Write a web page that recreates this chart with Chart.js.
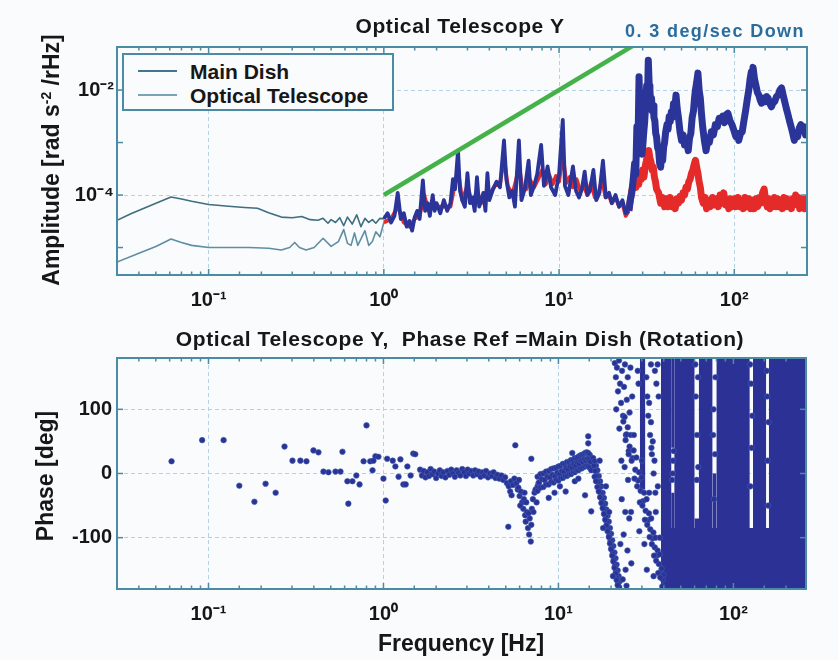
<!DOCTYPE html>
<html><head><meta charset="utf-8">
<script src="https://cdn.jsdelivr.net/npm/chart.js@4.4.1/dist/chart.umd.min.js"></script>
<style>
html,body{margin:0;padding:0}
body{width:838px;height:660px;position:relative;overflow:hidden;background:#fafbfd;font-family:"Liberation Sans",Arial,sans-serif;color:#171717}
canvas{position:absolute;left:0}
#c1{top:0}
#c2{top:320px}
.t{position:absolute;white-space:nowrap;font-weight:bold;z-index:3;line-height:1}
.c{transform:translate(-50%,-50%)}
.r{transform:translate(-50%,-50%) rotate(-90deg)}
#leg{position:absolute;left:122px;top:53px;width:268px;height:54px;border:2px solid #4b8ba3;background:#fafbfd;z-index:2}
.ll{position:absolute;left:14px;width:39px;height:0;border-top:2px solid}
.lt{position:absolute;left:66px;font-size:21px;font-weight:bold;line-height:1;transform:translateY(-50%)}
</style></head><body>
<canvas id="c1" width="838" height="320" style="width:838px;height:320px"></canvas>
<canvas id="c2" width="838" height="340" style="width:838px;height:340px"></canvas>

<div class="t c" style="left:460px;top:25px;font-size:21px;letter-spacing:0.6px">Optical Telescope Y</div>
<div class="t" style="left:625px;top:31px;transform:translateY(-50%);font-size:18px;letter-spacing:1.4px;color:#2a6c9c">0. 3 deg/sec Down</div>
<div class="t r" style="left:51px;top:160px;font-size:23px">Amplitude [rad s<sup style="font-size:14px">-2</sup> /rHz]</div>
<div class="t c" style="left:460px;top:338px;font-size:21px;letter-spacing:0.6px">Optical Telescope Y,&nbsp; Phase Ref =Main Dish (Rotation)</div>
<div class="t r" style="left:45px;top:476px;font-size:23px">Phase [deg]</div>
<div class="t c" style="left:461px;top:643px;font-size:23px">Frequency [Hz]</div>

<div id="leg">
  <div class="ll" style="top:15px;border-color:#3f7595"></div>
  <div class="lt" style="top:16px">Main Dish</div>
  <div class="ll" style="top:39px;border-color:#79a3b8"></div>
  <div class="lt" style="top:40px">Optical Telescope</div>
</div>

<script>
// ---------------- DATA ----------------
const freqTickExps = [-1, 0, 1, 2];
const ampTickExps = [-4, -2];
const phaseTicks = [-100, 0, 100];

// Main Dish amplitude [Hz, rad s^-2/rHz]
const mainDish = [
 [0.030,3.3e-5],[0.036,4.4e-5],[0.047,6.4e-5],[0.061,9.2e-5],[0.07,8.4e-5],[0.08,7.6e-5],[0.1,6.6e-5],[0.13,6.1e-5],
 [0.16,5.8e-5],[0.19,5.6e-5],[0.22,4.6e-5],[0.26,3.8e-5],[0.3,3.7e-5],[0.34,3.9e-5],[0.38,3.4e-5],[0.42,3.3e-5],
 [0.45,3.6e-5],[0.48,2.9e-5],[0.5,3.4e-5],[0.53,3.0e-5],[0.56,3.7e-5],[0.59,2.6e-5],[0.62,3.8e-5],[0.66,2.8e-5],
 [0.7,4.2e-5],[0.74,2.5e-5],[0.78,3.6e-5],[0.82,3.0e-5],[0.86,3.4e-5],[0.9,2.9e-5],[0.95,3.6e-5],
 [1.0,3.5e-5],[1.05,4.5e-5],[1.1,3.0e-5],[1.15,4e-5],[1.2,1.1e-4],[1.25,3.5e-5],[1.3,4.5e-5],[1.35,2.5e-5],[1.4,3.2e-5],
 [1.45,2.1e-5],[1.5,3.8e-5],[1.55,5e-5],[1.6,3.5e-5],[1.67,1.9e-4],[1.72,5e-5],[1.78,7e-5],[1.83,4e-5],[1.9,1.0e-4],
 [1.95,5e-5],[2.0,7e-5],[2.1,4.5e-5],[2.2,8e-5],[2.3,5e-5],[2.4,7e-5],[2.48,2.0e-4],[2.55,1.3e-4],[2.65,7e-4],
 [2.72,1.2e-4],[2.8,8e-5],[2.9,6e-5],[3.0,2.6e-4],[3.1,7e-5],[3.2,9e-5],[3.3,5e-5],[3.4,2.2e-4],[3.5,6e-5],[3.6,8e-5],
 [3.7,1.1e-4],[3.8,5e-5],[3.9,2.6e-4],[4.0,8e-5],[4.2,1.3e-4],[4.4,1.8e-4],[4.6,1.4e-4],[4.85,1.1e-3],[5.0,2e-4],
 [5.2,9e-5],[5.4,1.2e-4],[5.6,6e-5],[5.9,1.1e-3],[6.1,8e-5],[6.4,1.4e-4],[6.7,4.5e-4],[6.9,1.0e-4],[7.2,1.5e-4],
 [7.5,2.5e-4],[7.9,9e-4],[8.2,1.5e-4],[8.6,3.5e-4],[9.0,1.4e-4],[9.5,1.0e-4],[10.0,2.5e-4],[10.5,2.7e-3],[10.8,1.5e-4],
 [11.3,1.0e-4],[12,3.5e-4],[12.5,1.2e-4],[13,9e-5],[13.5,1.3e-4],[14,2.8e-4],[14.5,1.0e-4],[15,1.2e-4],[15.7,3e-4],
 [16.3,8e-5],[17,1.1e-4],[17.8,4.5e-4],[18.5,9e-5],[19.3,1.1e-4],[20,7e-5],[21,1.0e-4],[22,6e-5],[23,8e-5],[24,4.5e-5],
 [25,5e-5],[25.5,8e-5],[26,1.1e-4],[26.5,2e-4],[27,4e-4],[27.4,2.5e-4],[27.8,2e-3],[28.2,8e-4],[28.6,1.8e-2],[29,3e-3],
 [29.3,1.5e-3],[29.7,6e-4],[30,8e-4],[30.4,1.5e-3],[30.8,2.5e-3],[31.2,5e-3],[31.6,1.2e-2],[32,8e-3],[32.3,3.7e-2],
 [32.7,1.2e-2],[33,1e-2],[33.4,5e-3],[33.7,7e-3],[34,4e-3],[34.4,5e-3],[34.8,3e-3],[35.2,2.6e-3],[35.6,1.5e-3],
 [36,1.3e-3],[36.5,8e-4],[37,7e-4],[37.5,4e-4],[38,3.4e-4],[38.5,6e-4],[39,4.5e-4],[39.5,8e-4],[40,1e-3],[40.6,1.6e-3],
 [41.3,2.2e-3],[41.9,1.8e-3],[42.5,3.1e-3],[43.1,2.5e-3],[43.7,3.8e-3],[44.3,3e-3],[45,5.5e-3],[45.7,4.5e-3],[46.5,8e-3],
 [47.2,4.5e-3],[48,3e-3],[49,1.6e-3],[50,1.1e-3],[51,1.4e-3],[52,9e-4],[53.3,1.1e-3],[54.6,7e-4],[55.5,1.2e-3],
 [56.5,1.5e-3],[57.5,3e-3],[58.5,4e-3],[59.3,7e-3],[60,1e-2],[61,1.4e-2],[62,2.1e-2],[63,1e-2],[64,7e-3],[65,3.5e-3],
 [66,2e-3],[67.5,1.1e-3],[69,7e-4],[70.5,1.1e-3],[72,1e-3],[74,1.6e-3],[76,1.4e-3],[78,2.2e-3],[80,2e-3],[82,2.9e-3],
 [84,2.6e-3],[86,3.2e-3],[88,2.4e-3],[90,3.4e-3],[92,3.6e-3],[94.5,2.6e-3],[97,2.2e-3],[99.5,1.7e-3],[102,1.3e-3],
 [104,1.5e-3],[106,1.1e-3],[108.5,1.5e-3],[111,1.6e-3],[113.5,2.6e-3],[116,4e-3],[118.5,6.5e-3],[121,1e-2],[123,1.6e-2],
 [125,2.2e-2],[126.5,1.8e-2],[128,2.7e-2],[130.5,1.6e-2],[133,1.2e-2],[135.5,9e-3],[138,8e-3],[140.5,6.5e-3],[143,5.6e-3],
 [146.5,7e-3],[150,6e-3],[153,7.5e-3],[156,7e-3],[159.5,5.5e-3],[163,4.8e-3],[166.5,5.8e-3],[170,6e-3],[174,7.5e-3],
 [178,8e-3],[182,1e-2],[186,1.1e-2],[190,8e-3],[194,6e-3],[198,4.5e-3],[202,3.5e-3],[206.5,2.6e-3],[211,2e-3],
 [215.5,1.5e-3],[220,1.1e-3],[225,1.5e-3],[230,1.3e-3],[235,1.9e-3],[240,2.2e-3],[245,1.7e-3],[250,2e-3],[255,1.4e-3],[260,1.6e-3]
];

// Optical Telescope amplitude [Hz, rad s^-2/rHz]
const opticalTelescope = [
 [0.03,5.3e-6],[0.04,7.8e-6],[0.05,1.05e-5],[0.061,1.45e-5],[0.07,1.25e-5],[0.08,1.1e-5],[0.1,1.0e-5],[0.13,1.0e-5],
 [0.17,1.0e-5],[0.22,9.7e-6],[0.26,9.0e-6],[0.29,1.0e-5],[0.31,1.25e-5],[0.33,1.0e-5],[0.36,9.0e-6],[0.4,1.0e-5],
 [0.45,1.5e-5],[0.5,1.05e-5],[0.55,1.3e-5],[0.59,2.2e-5],[0.62,1.2e-5],[0.65,1.1e-5],[0.68,1.9e-5],[0.71,1.1e-5],
 [0.75,1.6e-5],[0.78,2.1e-5],[0.82,1.1e-5],[0.86,1.3e-5],[0.9,2.0e-5],[0.95,1.6e-5],
 [1,3e-5],[1.1,3.5e-5],[1.2,6e-5],[1.3,3e-5],[1.4,2.5e-5],[1.5,3.5e-5],[1.6,4e-5],[1.7,1e-4],[1.8,5e-5],[1.9,7e-5],
 [2,6e-5],[2.2,6e-5],[2.4,6e-5],[2.5,1.2e-4],[2.65,3e-4],[2.8,8e-5],[3,1.5e-4],[3.2,7e-5],[3.4,1.2e-4],[3.6,7e-5],
 [3.8,9e-5],[4,1e-4],[4.3,1.5e-4],[4.6,1.6e-4],[4.85,5e-4],[5.1,1.5e-4],[5.4,1e-4],[5.7,2e-4],[5.9,4e-4],[6.2,1.2e-4],
 [6.5,1.3e-4],[6.8,2e-4],[7.2,1.4e-4],[7.6,2e-4],[8,3e-4],[8.4,1.6e-4],[8.8,2.4e-4],[9.2,1.6e-4],[9.6,2.3e-4],[10,1.8e-4],
 [10.5,6e-4],[11,1.7e-4],[11.5,2.2e-4],[12,1.4e-4],[12.6,2e-4],[13.2,1.2e-4],[13.8,1.5e-4],[14.5,1e-4],[15.2,1.7e-4],
 [16,9e-5],[16.8,1.1e-4],[17.6,2e-4],[18.4,9e-5],[19.2,1e-4],[20,7e-5],[21,9e-5],[22,6e-5],[23,7e-5],[24,4e-5],[25,5e-5],
 [25.5,8e-5],[26,1.2e-4],[26.5,1.6e-4],[27,2e-4],[27.5,1.4e-4],[28,2.2e-4],[28.5,1.6e-4],[29,2.6e-4],[29.5,2e-4],[30,3e-4],
 [30.5,2.2e-4],[31,3.5e-4],[31.5,4.5e-4],[32,6e-4],[32.5,7e-4],[33,5e-4],[33.5,4.2e-4],[34,3e-4],[34.5,3.4e-4],[35,2.2e-4],
 [35.5,1.8e-4],[36,1.3e-4],[37,1.1e-4],[38,7e-5],[39,9e-5],[40,6e-5],[41,8.5e-5],[42,6e-5],[43,9e-5],[44,6e-5],[45,8e-5],
 [46,5.5e-5],[47,8.5e-5],[48,7e-5],[49,9.5e-5],[50,8e-5],[51,1.1e-4],[52,1e-4],[53,1.4e-4],[54,1.3e-4],[55,1.8e-4],[56,2e-4],
 [57,2.6e-4],[58,3e-4],[59,3.8e-4],[60,4.6e-4],[61,3.4e-4],[62,2.6e-4],[63,1.8e-4],[64,1.4e-4],[65,9e-5],[66.5,7e-5],
 [68,9e-5],[69.5,5.5e-5],[71,8e-5],[73,6e-5],[75,9e-5],[77,6.5e-5],[79,8.5e-5],[81,6e-5],[83,1e-4],[85,7e-5],[87,1.1e-4],
 [89,6.5e-5],[91,8e-5],[93,5.5e-5],[95,8.5e-5],[97.5,6e-5],[100,8.5e-5],[102.5,6e-5],[105,9e-5],[107.5,6e-5],[110,8e-5],
 [112.5,5.5e-5],[115,9e-5],[118,6e-5],[121,8.5e-5],[124,5.5e-5],[127,8e-5],[130,5.5e-5],[133,8.5e-5],[136,6e-5],[139,9e-5],
 [142,7e-5],[145,1.1e-4],[148,1.3e-4],[151,8e-5],[154,6e-5],[157,8.5e-5],[160,5.5e-5],[163,8e-5],[166,6e-5],[169.5,9e-5],
 [173,6e-5],[176.5,8.5e-5],[180,6e-5],[184,8e-5],[188,5.5e-5],[192,9e-5],[196,6e-5],[200,8.5e-5],[204,6e-5],[208,8e-5],
 [212,5.5e-5],[216,8.5e-5],[220,6.5e-5],[224,1e-4],[228,7e-5],[232,9e-5],[236,5.5e-5],[240,8.5e-5],[244,6e-5],[248,8e-5],
 [252,5.5e-5],[256,8.5e-5],[260,6.5e-5]
];

// 0.3 deg/sec reference line [Hz, amplitude]
const rotationLine = [[1, 1e-4], [40, 0.16]];

// Phase scatter points [Hz, deg]
const phasePoints = [
 [0.0615,19],[0.092,52],[0.122,52],[0.15,-19],[0.183,-44],[0.212,-16],[0.242,-30],[0.272,42],[0.302,20],[0.335,20],
 [0.363,19],[0.398,36],[0.425,33],[0.454,3],[0.485,2],[0.532,3],[0.568,3],[0.583,34],[0.622,-12],[0.63,-47],[0.665,-12],
 [0.70,-3],[0.73,-17],[0.77,19],[0.80,75],[0.84,19],[0.866,5],[0.877,20],[0.9,27],[0.936,26],[1.0,-8],[1.03,-42],
 [1.05,23],[1.13,20],[1.17,11],[1.22,-5],[1.25,22],[1.30,-17],[1.34,-17],[1.37,11],[1.43,-3],[1.48,31],[1.52,30],
 [1.62,6],[1.66,-3],[1.7,4],[1.74,-6],[1.78,2],[1.82,-4],[1.86,7],[1.9,-1],[1.95,3],[2.0,-7],[2.05,0],[2.1,5],[2.15,-4],
 [2.2,2],[2.26,-6],[2.32,4],[2.38,-2],[2.44,6],[2.5,0],[2.56,-5],[2.62,5],[2.68,1],[2.75,-3],[2.82,7],[2.89,2],[2.96,-4],
 [3.03,6],[3.1,0],[3.18,4],[3.26,-3],[3.34,5],[3.42,-1],[3.5,3],[3.59,-5],[3.68,2],[3.77,-3],[3.86,4],[3.96,-6],[4.06,0],
 [4.16,-4],[4.26,2],[4.37,-7],[4.48,-2],[4.6,-8],[4.72,-3],[4.84,-10],[4.96,-6],[5.08,-15],[5.2,-20],[5.3,-28],[5.35,-12],
 [5.17,-83],[5.67,44],[5.4,-34],[5.5,-18],[5.6,-8],[5.75,-15],[5.85,-25],
 [5.9,-22],[6.0,-35],[6.1,-28],[6.2,-45],[6.3,-55],[6.35,-40],[6.45,-65],[6.5,-75],[6.6,-60],[6.7,-85],[6.8,-95],
 [6.85,-70],[6.95,-106],[7.0,-80],[7.05,-55],[7.15,-40],[7.2,-60],[7.3,-30],[7.4,-25],[7.5,-45],[7.6,-20],[7.7,-15],
 [5.95,-10],[6.05,-50],[6.55,-45],[6.75,-62],[6.4,-30],
 [7.6,-5],[7.9,-1],[8.2,0],[8.5,3],[8.8,4],[9.1,7],[9.4,8],[9.7,9],[10,11],[10.3,12],[10.6,15],[10.9,15],[11.2,18],[11.5,18],
 [11.8,21],[12.1,21],[12.4,24],[12.7,24],[13,26],[13.3,28],[13.6,29],[13.9,30],[14.2,32],[14.5,33],[14.8,32],[15.1,29],[15.4,25],
 [7.75,-14],[8.05,-9],[8.35,-10],[8.65,-5],[8.95,-6],[9.25,-2],[9.55,-4],[9.85,1],[10.15,-1],[10.45,4],[10.75,3],[11.05,8],
 [11.35,6],[11.65,11],[11.95,9],[12.25,14],[12.55,12],[12.85,17],[13.15,15],[13.45,20],[13.75,18],[14.05,22],[14.35,20],
 [14.65,23],[14.95,21],[15.25,18],
 [7.6,-27],[7.9,-22],[8.2,-21],[8.5,-17],[8.8,-17],[9.1,-13],[9.4,-14],[9.7,-10],[10,-11],[10.3,-7],[10.6,-7],[10.9,-4],
 [11.2,-4],[11.5,-1],[11.8,-1],[12.1,2],[12.4,2],[12.7,5],[13,5],[13.3,8],[13.6,8],[13.9,10],[14.2,11],[14.5,12],[14.8,11],
 [15.1,9],[15.4,5],
 [9.5,-30],[10.2,-20],[11,-28],[12.4,-12],[13,-8],[14.2,-34],[14.8,47],[14.8,58],[15.4,-59],[7,23],[8.8,-38],[12,32],
 [15.8,24],[16.1,19],[16.4,12],[16.7,5],[17,-4],[17.3,-12],[17.6,-20],[17.9,-30],[18.2,-38],[18.5,-47],[18.8,-56],[19.1,-66],
 [19.4,-75],[19.7,-85],[20,-94],[20.3,-104],[20.6,-113],[20.9,-123],[21.2,-132],[21.5,-142],[21.8,-151],[22.1,-160],[22.4,-168],
 [15.95,12],[16.25,4],[16.55,-4],[16.85,-13],[17.15,-22],[17.45,-30],[17.75,-40],[18.05,-49],[18.35,-58],[18.65,-67],
 [18.95,-77],[19.25,-86],[19.55,-96],[19.85,-105],[20.15,-115],[20.45,-124],[20.75,-134],[21.05,-144],[21.35,-153],
 [21.65,-163],[21.95,-171],[22.25,-177],
 [16.1,-5],[16.4,-12],[16.7,-21],[17,-28],[17.3,-37],[17.6,-46],[17.9,-54],[18.2,-63],[18.5,-72],[18.8,-81],[19.1,-90],
 [19.4,-99],[19.7,-109],[20,-118],[20.3,-128],[20.6,-137],[20.9,-147],[21.2,-156],[21.5,-166],[21.8,-174],
 [18,-85],[19.5,-60],[20.5,-160],[17.2,20],[18.7,-20],
 [21.0,172],[21.3,150],[21.6,165],[21.9,128],[22.2,176],[22.5,140],[22.8,110],[23.1,160],[23.4,90],[23.7,135],[24.0,170],
 [24.3,60],[24.6,115],[24.9,150],[25.2,35],[25.5,95],[25.8,165],[23.0,-40],[23.6,-95],[24.2,-150],[24.8,-120],[25.4,-70],
 [22.6,-110],[23.9,10],[25.0,-10],[22.3,70],[24.5,-175],[23.3,-165],[26.1,-140],[26.4,120],[21.4,100],[22.9,20],[24.1,-60],
 [23.5,81],[24.5,61],[25.5,42],[26.5,24],[27.5,6],[28.5,-11],[29.5,-27],[30.5,-43],[31.5,-58],[32.5,-73],[33.5,-87],
 [34.5,-101],[35.5,-115],[36.5,-128],[37.5,-141],[38.5,-153],[39.5,-165],
 [23.9,88],[24.9,72],[25.9,60],[26.9,36],[27.9,25],[28.9,2],[29.9,-6],[30.9,-30],[31.9,-40],[32.9,-62],[33.9,-70],
 [34.9,-92],[35.9,-100],[36.9,-120],[37.9,-126],[38.9,-148],[39.9,-158],
 [24.2,52],[25.2,30],[26.2,20],[27.2,-8],[28.2,-20],[29.2,-45],[30.2,-50],[31.2,-72],[32.2,-80],[33.2,-99],[34.2,-110],
 [35.2,-128],[36.2,-136],[37.2,-155],[38.2,-162],[39.2,-176],
 [27,60],[30,20],[33,-30],[36,-60],[31,-110],[35,-160],[26,-60],[38,-100],[29,-90],[34,40],[32,-150],[37,-20],
 [28.4,160],[28.7,140],[31.8,150],[32.2,120],[32.6,90],[33,110],[33.4,60],[33.8,80],[34.2,30],[34.6,50],[35,0],[35.4,20],
 [35.8,-30],[36.3,140],[36.9,170],[37.4,120],[33.8,170],[35.6,160],
 [61,120],[62,60],[62.8,150],[61.8,-10],[63,10],[60.6,170],[77,100],[78.5,30],[79,150],[77.5,-40],[76.6,60],
 [126,140],[127,40],[125,-20],[128,90],[124.6,170],[156,120],[157,20],[158,-50],[155,160],[159,80],
 [45,0],[45.2,20],[44.6,-10],[45.6,35]
];

// Saturated phase regions [Hz from, Hz to, deg low, deg high]
const phaseBands = [
 [29.2,31.4,-25,180],
 [38.5,260,-180,-85],
 [38.5,44.3,-90,180],[44.1,46.1,-90,-30],[44.1,46.1,40,180],[45.9,60.1,-90,180],[59.9,63.6,-90,-70],
 [63.4,76.1,-90,180],[75.9,80.1,-90,0],[79.9,124.1,-90,180],[129.4,154.1,-90,180],[159.4,260,-90,180]
];

// ---------------- HELPERS ----------------
const FONT = '"Liberation Sans", Arial, sans-serif';
const SUP = {'-':'\u207B','0':'\u2070','1':'\u00B9','2':'\u00B2','3':'\u00B3','4':'\u2074','5':'\u2075'};
const lg = v => Math.log10(v);
const isDec = v => Math.abs(lg(v) - Math.round(lg(v))) < 1e-7;
const decLabel = e => '10' + String(e).split('').map(c => SUP[c]).join('');
const toXY = a => a.map(([x, y]) => ({x, y}));
const FRAME = '#4b8ba3';
const GRID = '#b4d2e3';
const TICKCOL = '#161616';
const BLUE = '#2b3599', RED = '#e52a2a', GREEN = '#45b249', PBLUE = '#2c3196';

const framePlugin = {
  id: 'frame',
  afterDraw(chart, args, opts) {
    const {ctx, chartArea: a, scales} = chart;
    ctx.save();
    ctx.strokeStyle = FRAME;
    ctx.lineWidth = 1.5;
    const line = (x1, y1, x2, y2) => { ctx.beginPath(); ctx.moveTo(x1, y1); ctx.lineTo(x2, y2); ctx.stroke(); };
    scales.x.ticks.forEach(t => {
      const px = scales.x.getPixelForValue(t.value);
      if (px < a.left + 1 || px > a.right - 1) return;
      const L = isDec(t.value) ? 6 : 3.5;
      line(px, a.top, px, a.top + L);
      line(px, a.bottom, px, a.bottom - L);
    });
    (opts.yTicks || []).forEach(v => {
      const py = scales.y.getPixelForValue(v);
      line(a.left, py, a.left + 6, py);
      line(a.right, py, a.right - 6, py);
    });
    ctx.lineWidth = 2;
    ctx.strokeRect(a.left, a.top, a.right - a.left, a.bottom - a.top);
    ctx.restore();
  }
};

const xScale = (h) => ({
  type: 'logarithmic', min: 0.03, max: 260,
  grid: { color: c => (isDec(c.tick.value) && freqTickExps.includes(Math.round(lg(c.tick.value)))) ? GRID : 'rgba(0,0,0,0)', drawTicks: false, lineWidth: 1 },
  border: { display: false, dash: [4, 3] },
  ticks: {
    autoSkip: false, maxRotation: 0, padding: 13, color: TICKCOL,
    font: { family: FONT, size: 20, weight: 'bold' },
    callback: v => { const e = Math.round(lg(v)); return (isDec(v) && freqTickExps.includes(e)) ? decLabel(e) : ''; }
  },
  afterFit: s => { s.height = h; }
});

// ---------------- AMPLITUDE CHART ----------------
const seg = (lowCol, col, wLow, wMid, wHigh) => ({
  borderColor: c => c.p0.parsed.x < 0.999 ? lowCol : col,
  borderWidth: c => c.p0.parsed.x < 0.999 ? wLow : (c.p0.parsed.x < 24.9 ? wMid : wHigh)
});

new Chart(document.getElementById('c1'), {
  type: 'line',
  data: {
    datasets: [
      { label: '0.3 deg/sec', data: toXY(rotationLine), borderColor: GREEN, borderWidth: 4.5, pointRadius: 0, clip: 0 },
      { label: 'Main Dish', data: toXY(mainDish), borderColor: BLUE, borderWidth: 2, pointRadius: 0, clip: 0,
        borderJoinStyle: 'round', segment: seg('#3e6e80', BLUE, 1.6, 3.8, 7) },
      { label: 'Optical Telescope', data: toXY(opticalTelescope), borderColor: RED, borderWidth: 2, pointRadius: 0, clip: 0,
        borderJoinStyle: 'round', segment: seg('#5f8ea2', RED, 1.6, 3.8, 7) }
    ]
  },
  options: {
    responsive: false, animation: false, devicePixelRatio: 1,
    layout: { padding: { left: 0, right: 31, top: 47, bottom: 0 } },
    plugins: { legend: { display: false }, tooltip: { enabled: false }, frame: { yTicks: [1e-5, 1e-4, 1e-3, 1e-2] } },
    scales: {
      x: xScale(45),
      y: {
        type: 'logarithmic', min: 3.0e-6, max: 0.066,
        grid: { color: c => (isDec(c.tick.value) && ampTickExps.includes(Math.round(lg(c.tick.value)))) ? GRID : 'rgba(0,0,0,0)', drawTicks: false },
        border: { display: false, dash: [4, 3] },
        ticks: {
          autoSkip: false, padding: 3, color: TICKCOL, font: { family: FONT, size: 20, weight: 'bold' },
          callback: v => { const e = Math.round(lg(v)); return (isDec(v) && ampTickExps.includes(e)) ? decLabel(e) : ''; }
        },
        afterFit: s => { s.width = 117; }
      }
    }
  },
  plugins: [framePlugin]
});

// ---------------- PHASE CHART ----------------
const bandSets = phaseBands.map(([f0, f1, lo, hi]) => ({
  type: 'line', data: [{x: f0, y: hi}, {x: f1, y: hi}], showLine: true,
  fill: { value: lo }, backgroundColor: PBLUE, borderWidth: 0, pointRadius: 0, clip: 0
}));

new Chart(document.getElementById('c2'), {
  type: 'scatter',
  data: {
    datasets: [
      { label: 'Phase', data: toXY(phasePoints), backgroundColor: PBLUE, borderColor: '#3a5fb0', borderWidth: 0.6, pointRadius: 2.8, clip: 0 },
      ...bandSets
    ]
  },
  options: {
    responsive: false, animation: false, devicePixelRatio: 1,
    layout: { padding: { left: 0, right: 32, top: 38, bottom: 0 } },
    plugins: { legend: { display: false }, tooltip: { enabled: false }, frame: { yTicks: phaseTicks } },
    scales: {
      x: xScale(71),
      y: {
        type: 'linear', min: -180, max: 180,
        grid: { color: c => phaseTicks.includes(c.tick.value) ? GRID : 'rgba(0,0,0,0)', drawTicks: false },
        border: { display: false, dash: [4, 3] },
        ticks: {
          stepSize: 100, autoSkip: false, padding: 5, color: TICKCOL, font: { family: FONT, size: 20, weight: 'bold' },
          callback: v => phaseTicks.includes(v) ? String(v) : ''
        },
        afterFit: s => { s.width = 117; }
      }
    }
  },
  plugins: [framePlugin]
});
</script>
</body></html>
